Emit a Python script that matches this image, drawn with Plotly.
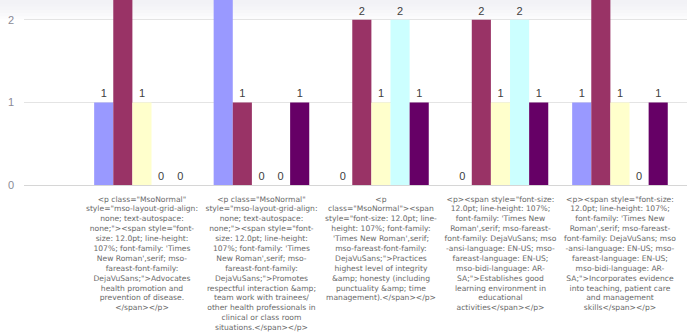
import plotly.graph_objects as go

label_lines = [
    ['<p class="MsoNormal"', 'style="mso-layout-grid-align:', 'none; text-autospace:',
     'none;"><span style="font-', 'size: 12.0pt; line-height:', "107%; font-family: 'Times",
     "New Roman',serif; mso-", 'fareast-font-family:', 'DejaVuSans;">Advocates',
     'health promotion and', 'prevention of disease.', '</span></p>'],
    ['<p class="MsoNormal"', 'style="mso-layout-grid-align:', 'none; text-autospace:',
     'none;"><span style="font-', 'size: 12.0pt; line-height:', "107%; font-family: 'Times",
     "New Roman',serif; mso-", 'fareast-font-family:', 'DejaVuSans;">Promotes',
     'respectful interaction &amp;', 'team work with trainees/', 'other health professionals in',
     'clinical or class room', 'situations.</span></p>'],
    ['<p', 'class="MsoNormal"><span', 'style="font-size: 12.0pt; line-', 'height: 107%; font-family:',
     "'Times New Roman',serif;", 'mso-fareast-font-family:', 'DejaVuSans;">Practices',
     'highest level of integrity', '&amp; honesty (including', 'punctuality &amp; time',
     'management).</span></p>'],
    ['<p><span style="font-size:', '12.0pt; line-height: 107%;', "font-family: 'Times New",
     "Roman',serif; mso-fareast-", 'font-family: DejaVuSans; mso', '-ansi-language: EN-US; mso-',
     'fareast-language: EN-US;', 'mso-bidi-language: AR-', 'SA;">Establishes good',
     'learning environment in', 'educational', 'activities</span></p>'],
    ['<p><span style="font-size:', '12.0pt; line-height: 107%;', "font-family: 'Times New",
     "Roman',serif; mso-fareast-", 'font-family: DejaVuSans; mso', '-ansi-language: EN-US; mso-',
     'fareast-language: EN-US;', 'mso-bidi-language: AR-', 'SA;">Incorporates evidence',
     'into teaching, patient care', 'and management', 'skills</span></p>'],
]

series_names = ["Series 1", "Series 2", "Series 3", "Series 4", "Series 5"]
series_values = [
    [1, 4, 0, 0, 1],
    [4, 1, 2, 2, 3],
    [1, 0, 1, 1, 1],
    [0, 0, 2, 2, 0],
    [0, 1, 1, 1, 1],
]
series_colors = ["#9999FF", "#993366", "#FFFFCC", "#CCFFFF", "#660066"]

y_max = 2.24


def esc(s):
    return s.replace("&", "&amp;").replace("<", "&lt;").replace(">", "&gt;")


categories = [f"c{i}" for i in range(len(label_lines))]
tick_text = ["<br>".join(esc(l) for l in lines) for lines in label_lines]

fig = go.Figure()
for name, vals, col in zip(series_names, series_values, series_colors):
    # labels of bars that run past the visible top are off-screen in the original
    labels = [str(v) if v < y_max else "" for v in vals]
    fig.add_trace(go.Bar(
        x=categories, y=vals, name=name,
        marker=dict(color=col, line=dict(width=0)),
        text=labels, textposition="outside",
        textfont=dict(family="Liberation Sans, Arial", size=11, color="#404040"),
        cliponaxis=True,
    ))

# faint shading at the top edge
steps = 6
for k in range(steps):
    fig.add_shape(type="rect", xref="paper", yref="paper",
                  x0=-0.05, x1=1.0, y0=1 - (k + 1) * 0.105 / steps, y1=1,
                  fillcolor="#eeeef2", opacity=0.16, line=dict(width=0), layer="below")

fig.update_layout(
    width=687, height=336,
    margin=dict(l=24, r=0, t=0, b=151),
    paper_bgcolor="white", plot_bgcolor="rgba(0,0,0,0)",
    barmode="group", bargap=0.2, bargroupgap=0,
    showlegend=False,
    font=dict(family="Liberation Sans, Arial", color="#666666"),
)
fig.update_xaxes(
    type="category", range=[-0.987, 4.561],
    tickvals=categories, ticktext=tick_text, tickangle=0,
    tickfont=dict(family="DejaVu Sans", size=7.6, color="#6a6a6a"),
    ticks="", ticklabelstandoff=8, showgrid=False,
    showline=False, fixedrange=True,
)
fig.update_yaxes(
    range=[0, y_max], tickvals=[0, 1, 2], ticks="",
    tickfont=dict(size=11, color="#8a8a96"), ticklabelstandoff=9,
    showgrid=True, gridcolor="#e4e4e4", gridwidth=1,
    zeroline=True, zerolinecolor="#d6d6d6", zerolinewidth=1,
    showline=False,
)

fig.write_html("out.html")
